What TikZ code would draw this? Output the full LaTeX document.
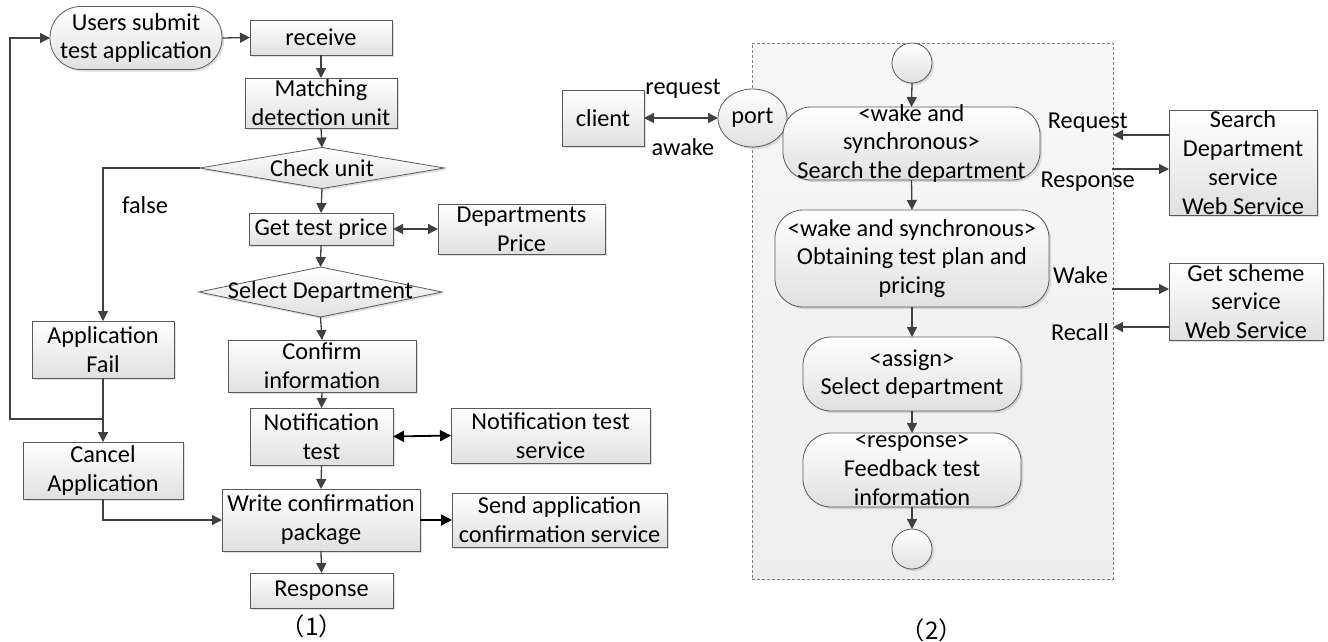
\documentclass[tikz,border=0pt]{standalone}
\usepackage{fontspec}
\setmainfont{Carlito}
\newfontfamily\cjk{Noto Sans CJK SC}
\usetikzlibrary{arrows.meta,shapes.geometric,shadows,calc}
\definecolor{linecol}{HTML}{404040}
\definecolor{bordcol}{HTML}{5A5A5A}
\definecolor{boxbot}{HTML}{E0E0E0}
\definecolor{contcol}{HTML}{808080}
\begin{document}
\begin{tikzpicture}[x=1pt,y=-1pt,font=\fontsize{24.3}{28.8}\selectfont,
  box/.style={draw=bordcol, line width=0.8pt, top color=white, bottom color=boxbot,
    drop shadow={shadow xshift=2pt,shadow yshift=-2pt,opacity=0.25},
    inner sep=0pt, outer sep=0pt},
  rbox/.style={box, rounded corners=28pt},
  diam/.style={box, diamond},
  circ/.style={box, circle},
  txt/.style={align=center, inner sep=0pt},
  arr/.style={draw=linecol, line width=1.3pt, -{Triangle[length=10pt,width=10pt]}},
  dbl/.style={draw=linecol, line width=1.3pt, {Triangle[length=10pt,width=10pt]}-{Triangle[length=10pt,width=10pt]}},
  blk/.style={draw=black, line width=1.8pt, -{Triangle[length=11pt,width=11pt]}},
  blkd/.style={draw=black, line width=1.8pt, {Triangle[length=11pt,width=11pt]}-{Triangle[length=11pt,width=11pt]}},
  lbl/.style={inner sep=0pt}
]
\useasboundingbox (0,0) rectangle (1328,641);

% ---------- left flowchart ----------
\node[box, rounded corners=31pt, minimum width=172, minimum height=63,
  label={[txt]center:{Users submit\\test application}}] (stad) at (136,38) {};
\node[box, minimum width=142, minimum height=35, label={[txt]center:receive}] (rcv) at (321,37.5) {};
\node[box, minimum width=152, minimum height=50, label={[txt]center:{Matching\\detection unit}}] (match) at (321,103) {};
\node[diam, minimum width=245, minimum height=41, label={[txt]center:Check unit}] (check) at (322,168) {};
\node[box, minimum width=144, minimum height=32, label={[txt]center:Get test price}] (price) at (321,229) {};
\node[box, minimum width=167, minimum height=50, label={[txt]center:{Departments\\Price}}] (dprice) at (521.5,229) {};
\node[diam, minimum width=243, minimum height=50, label={[txt]center:Select Department}] (sel) at (320.5,292) {};
\node[box, minimum width=188, minimum height=52, label={[txt]center:{Confirm\\information}}] (conf) at (322,366) {};
\node[box, minimum width=142, minimum height=57, label={[txt]center:{Application\\Fail}}] (fail) at (103,349.5) {};
\node[box, minimum width=143, minimum height=57, label={[txt]center:{Notification\\test}}] (notif) at (321.5,436.5) {};
\node[box, minimum width=199, minimum height=55, label={[txt]center:{Notification test\\service}}] (nts) at (550.5,435.5) {};
\node[box, minimum width=160, minimum height=57, label={[txt]center:{Cancel\\Application}}] (cancel) at (103,470.5) {};
\node[box, minimum width=198, minimum height=62, label={[txt]center:{Write confirmation\\package}}] (write) at (321,520) {};
\node[box, minimum width=215, minimum height=54, label={[txt]center:{Send application\\confirmation service}}] (send) at (559.5,520) {};
\node[box, minimum width=143, minimum height=35, label={[txt]center:Response}] (resp) at (321.5,590.5) {};
\node[lbl] (one) at (312,626) {\cjk （1）};

\node[lbl] (false) at (145,205) {false};
\coordinate (lb) at (10,419);

\draw[arr] (stad.east) -- (rcv.west);
\draw[arr] (rcv.south) -- (match.north);
\draw[arr] (match.south) -- (check.north);
\draw[arr] (check.south) -- (price.north);
\draw[dbl] (price.east) -- (dprice.west);
\draw[arr] (price.south) -- (sel.north);
\draw[arr] (sel.south) -- (conf.north);
\draw[arr] (conf.south) -- (notif.north);
\draw[blkd] (notif.east) -- (nts.west);
\draw[arr] (notif.south) -- (write.north);
\draw[blk] (write.east) -- (send.west);
\draw[arr] (write.south) -- (resp.north);
\draw[arr] (check.west) -| (fail.north);
\draw[arr] (fail.south) -- (cancel.north);
\draw[arr] (fail.south) |- (lb) |- (stad.west);
\draw[arr] (cancel.south) |- (write.west);

% ---------- right diagram ----------
\node[draw=contcol, dash pattern=on 3pt off 2pt, line width=0.8pt,
  top color=white!97!black, bottom color=white!93!black,
  minimum width=361, minimum height=536, inner sep=0pt] (cont) at (932.5,311) {};

\node[box, minimum width=82, minimum height=56, label={[txt]center:client}] (client) at (603,118) {};
\node[box, ellipse, minimum width=69, minimum height=58, label={[txt]center:port}] (port) at (752.5,118) {};
\node[circ, minimum size=40] (start) at (912,63) {};
\node[rbox, minimum width=257, minimum height=73,
  label={[txt]center:{<wake and\\synchronous>\\Search the department}}] (search) at (911.5,143.5) {};
\node[rbox, minimum width=274, minimum height=97,
  label={[txt]center:{<wake and synchronous>\\Obtaining test plan and\\pricing}}] (obtain) at (912,258.5) {};
\node[rbox, minimum width=218, minimum height=74,
  label={[txt]center:{<assign>\\Select department}}] (assign) at (912,374) {};
\node[rbox, minimum width=218, minimum height=74,
  label={[txt]center:{<response>\\Feedback test\\information}}] (rbox) at (912,470) {};
\node[circ, minimum size=40] (end) at (912,549) {};
\node[box, minimum width=148, minimum height=105,
  label={[txt]center:{Search\\Department\\service\\Web Service}}] (sds) at (1243,162.5) {};
\node[box, minimum width=154, minimum height=77,
  label={[txt]center:{Get scheme\\service\\Web Service}}] (gss) at (1246,301.5) {};
\node[lbl] (two) at (932,630) {\cjk （2）};

\node[lbl] (lreq) at (683,89) {request};
\node[lbl] (lawk) at (683,147) {awake};
\node[lbl, anchor=east] (lRq) at (1128,123) {Request};
\node[lbl, anchor=east] (lRs) at (1135,182) {Response};
\node[lbl, anchor=east] (lWk) at (1108,275) {Wake};
\node[lbl, anchor=east] (lRc) at (1109,332) {Recall};

\coordinate (rq) at (1113,135);
\coordinate (rs) at (1112,169);
\coordinate (wk) at (1112,289);
\coordinate (rc) at (1113,327);

\draw[dbl] (client.east) -- (port.west);
\draw[arr] (start.south) -- (search.north);
\draw[arr] (search.south) -- (obtain.north);
\draw[arr] (obtain.south) -- (assign.north);
\draw[arr] (assign.south) -- (rbox.north);
\draw[arr] (rbox.south) -- (end.north);
\draw[arr] (rq -| sds.west) -- (rq);
\draw[arr] (rs) -- (rs -| sds.west);
\draw[arr] (wk) -- (wk -| gss.west);
\draw[arr] (rc -| gss.west) -- (rc);
\end{tikzpicture}
\end{document}
